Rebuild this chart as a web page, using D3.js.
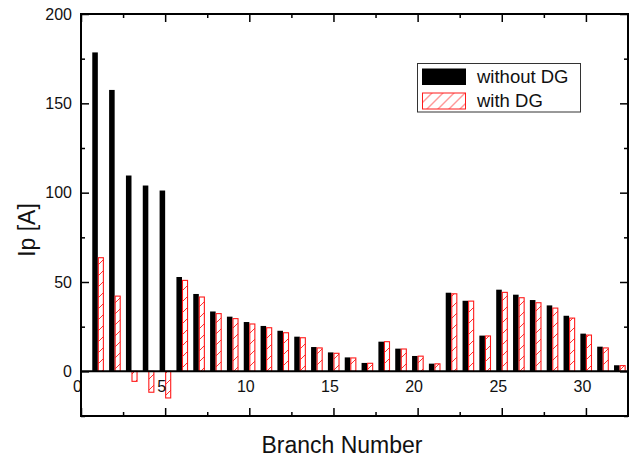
<!DOCTYPE html>
<html>
<head>
<meta charset="utf-8">
<script src="https://cdn.jsdelivr.net/npm/d3@7"></script>
<style>
  body { margin: 0; background: #fff; }
  svg { font-family: "Liberation Sans", Arial, sans-serif; }
</style>
</head>
<body>
<svg></svg>
<script>
var branches = [1,2,3,4,5,6,7,8,9,10,11,12,13,14,15,16,17,18,19,20,21,22,23,24,25,26,27,28,29,30,31,32];
var withoutDG = [178.5,157.5,109.6,104,101.2,52.8,43.3,33.5,30.6,27.6,25.4,22.7,19.4,13.6,10.6,7.8,4.7,16.6,12.7,8.6,4.3,44.0,39.5,20.0,45.7,42.9,39.9,36.9,31.1,21.1,13.8,3.4];
var withDG = [63.6,42.1,-5.6,-11.7,-14.9,50.9,41.6,32.3,29.5,26.5,24.4,21.6,18.8,13.1,10.1,7.5,4.5,16.6,12.5,8.5,4.2,43.4,39.3,19.8,44.2,41.2,38.4,35.4,29.8,20.3,13.1,3.2];
var xMajor = [0,5,10,15,20,25,30];
var xMinor = [2.5,7.5,12.5,17.5,22.5,27.5];
var yMajor = [0,50,100,150,200];
var yMinor = [-25,25,75,125,175];
var seriesNames = ["without DG", "with DG"];

var w = 636, h = 459;
var pLeft = 81, pRight = 628, pTop = 14, pBottom = 416;

var svg = d3.select("svg").attr("width", w).attr("height", h);

var x = d3.scaleLinear().domain([0, 32.5]).range([pLeft, pRight]);
var y = d3.scaleLinear().domain([-25, 200]).range([pBottom, pTop]);

// hatch for the red bars
var defs = svg.append("defs");
var pat = defs.append("pattern")
  .attr("id", "hatch")
  .attr("patternUnits", "userSpaceOnUse")
  .attr("width", 11).attr("height", 11);
pat.append("rect").attr("width", 11).attr("height", 11).attr("fill", "white");
pat.append("path")
  .attr("d", "M0,11 L11,0 M-2,2 L2,-2 M9,13 L13,9")
  .attr("stroke", "#ff1a1a").attr("stroke-width", 0.9);

var bw = 0.33;

svg.append("g").selectAll("rect")
  .data(branches)
  .enter()
  .append("rect")
  .attr("x", function(d){return x(d - bw);})
  .attr("width", function(d){return x(bw) - x(0);})
  .attr("y", function(d, i){return y(Math.max(0, withoutDG[i]));})
  .attr("height", function(d, i){return Math.abs(y(withoutDG[i]) - y(0));})
  .attr("fill", "black");

svg.append("g").selectAll("rect")
  .data(branches)
  .enter()
  .append("rect")
  .attr("x", function(d){return x(d) + 0.5;})
  .attr("width", function(d){return x(0.3) - x(0);})
  .attr("y", function(d, i){return y(Math.max(0, withDG[i]));})
  .attr("height", function(d, i){return Math.abs(y(withDG[i]) - y(0));})
  .attr("fill", "url(#hatch)")
  .attr("stroke", "#ff1a1a")
  .attr("stroke-width", 1.1);

// zero line
svg.append("line")
  .attr("x1", pLeft).attr("x2", pRight)
  .attr("y1", y(0)).attr("y2", y(0))
  .attr("stroke", "black").attr("stroke-width", 2);

// ticks, all pointing inward
var addAxis = function(axis, tx, ty)
{
  var g = svg.append("g")
    .attr("transform", "translate(" + tx + "," + ty + ")")
    .call(axis);
  g.select(".domain").remove();
  g.selectAll("line").attr("stroke-width", 1.5);
  g.selectAll("text").attr("font-size", 16).attr("fill", "#111");
  return g;
}

addAxis(d3.axisBottom(x).tickValues(xMajor).tickSize(-8).tickFormat(""), 0, pBottom);
addAxis(d3.axisBottom(x).tickValues(xMinor).tickSize(-4).tickFormat(""), 0, pBottom);
addAxis(d3.axisTop(x).tickValues(xMajor).tickSize(-8).tickFormat(""), 0, pTop);
addAxis(d3.axisTop(x).tickValues(xMinor).tickSize(-4).tickFormat(""), 0, pTop);

addAxis(d3.axisLeft(y).tickValues(yMajor).tickSize(-8).tickPadding(9), pLeft, 0);
addAxis(d3.axisLeft(y).tickValues(yMinor).tickSize(-4).tickFormat(""), pLeft, 0);
addAxis(d3.axisRight(y).tickValues(yMajor).tickSize(-8).tickFormat(""), pRight, 0);
addAxis(d3.axisRight(y).tickValues(yMinor).tickSize(-4).tickFormat(""), pRight, 0);

// x tick labels sit under the zero line
var xl = addAxis(d3.axisBottom(x).tickValues(xMajor).tickSize(0).tickPadding(9), 0, y(0));
xl.selectAll("text").attr("dx", -4);

// frame
svg.append("rect")
  .attr("x", pLeft).attr("y", pTop)
  .attr("width", pRight - pLeft).attr("height", pBottom - pTop)
  .attr("fill", "none").attr("stroke", "black").attr("stroke-width", 2);

// axis titles
svg.append("text")
  .attr("x", 342).attr("y", 453)
  .attr("text-anchor", "middle")
  .attr("font-size", 23).attr("fill", "#111")
  .text("Branch Number");

svg.append("text")
  .attr("transform", "translate(35,230) rotate(-90)")
  .attr("text-anchor", "middle")
  .attr("font-size", 23).attr("fill", "#111")
  .text("Ip [A]");

// legend
var lg = svg.append("g").attr("transform", "translate(417.5,63.5)");
lg.append("rect")
  .attr("width", 163).attr("height", 48.5)
  .attr("fill", "white").attr("stroke", "#333").attr("stroke-width", 1);
lg.append("rect")
  .attr("x", 4.5).attr("y", 5).attr("width", 44).attr("height", 16.5)
  .attr("fill", "black");
lg.append("rect")
  .attr("x", 5).attr("y", 29.5).attr("width", 43).attr("height", 16)
  .attr("fill", "url(#hatch)").attr("stroke", "#ff1a1a").attr("stroke-width", 1);
lg.selectAll("text.lab")
  .data(seriesNames)
  .enter()
  .append("text")
  .attr("class", "lab")
  .attr("x", 59.5)
  .attr("y", function(d, i){return 19.3 + i * 24;})
  .attr("font-size", 18.5).attr("fill", "#111")
  .text(function(d){return d;});
</script>
</body>
</html>
